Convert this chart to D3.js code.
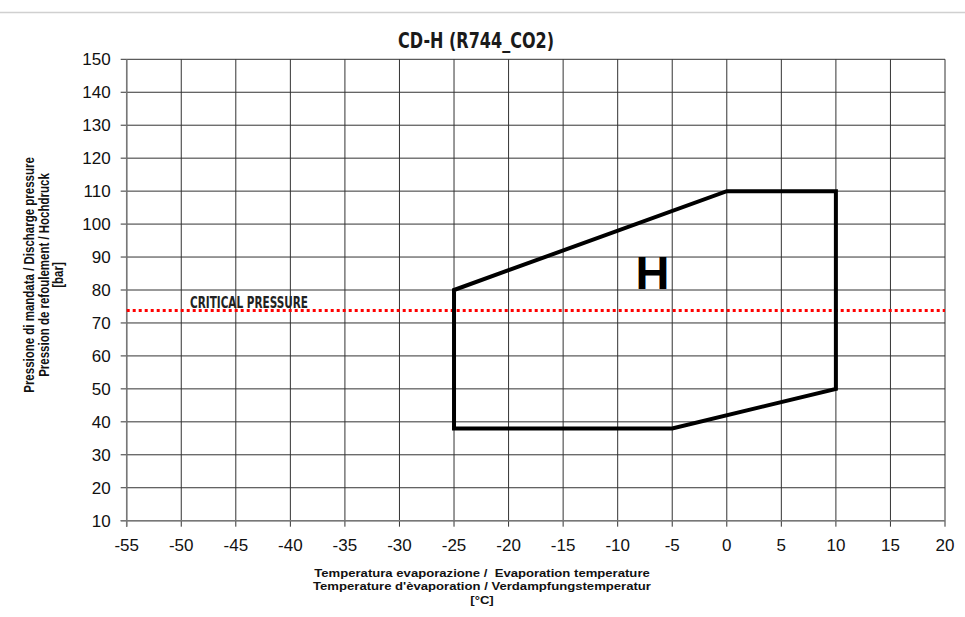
<!DOCTYPE html>
<html><head><meta charset="utf-8">
<script src="https://cdn.jsdelivr.net/npm/d3@7"></script>
<style>body{margin:0;background:#fff}svg{display:block}</style>
</head><body>
<svg id="c" width="965" height="617"></svg>
<script>
const envelopeT = [-25, -25, 0, 10, 10, -5];
const envelopeP = [38, 80, 110, 110, 50, 38];
const criticalPressure = 73.8;
const xTicks = [-55,-50,-45,-40,-35,-30,-25,-20,-15,-10,-5,0,5,10,15,20];
const yTicks = [10,20,30,40,50,60,70,80,90,100,110,120,130,140,150];
const regionLabel = "H";
const regionLabelPos = [-6.8, 85.5];
const title = "CD-H (R744_CO2)";
const criticalLabel = "CRITICAL PRESSURE";
const yTitle = ["Pressione di mandata / Discharge pressure","Pression de refoulement / Hochdruck","[bar]"];
const xTitle = ["Temperatura evaporazione /  Evaporation temperature","Temperature d'èvaporation / Verdampfungstemperatur","[°C]"];

const svg = d3.select("#c");
const L=126.7, R=945, T=59.3, B=520.7;
const x = d3.scaleLinear().domain([-55,20]).range([L,R]);
const y = d3.scaleLinear().domain([10,150]).range([B,T]);

svg.append("line").attr("x1",0).attr("x2",965).attr("y1",12.5).attr("y2",12.5)
  .attr("stroke","#d0d0d0").attr("stroke-width",1.5);

svg.append("text").attr("x",476).attr("y",48).attr("text-anchor","middle")
  .attr("font-family","DejaVu Sans Condensed, DejaVu Sans").attr("font-stretch","condensed")
  .attr("font-weight","bold").attr("font-size",22).attr("fill","#1a1a1a")
  .attr("textLength",156).attr("lengthAdjust","spacingAndGlyphs").text(title);

const g = svg.append("g");
// grid
g.selectAll(".vg").data(xTicks).join("line").attr("x1",d=>x(d)).attr("x2",d=>x(d))
  .attr("y1",T).attr("y2",B+6).attr("stroke","#333").attr("stroke-width",1);
g.selectAll(".hg").data(yTicks).join("line").attr("x1",L-6).attr("x2",R)
  .attr("y1",d=>y(d)).attr("y2",d=>y(d)).attr("stroke","#333").attr("stroke-width",1);
g.append("line").attr("x1",L).attr("x2",L).attr("y1",T).attr("y2",B+6).attr("stroke","#777").attr("stroke-width",1.5);
g.append("line").attr("x1",L-6).attr("x2",R).attr("y1",B).attr("y2",B).attr("stroke","#777").attr("stroke-width",1.5);

// tick labels
g.selectAll(".yl").data(yTicks).join("text").attr("x",L-16).attr("y",d=>y(d)+6)
  .attr("text-anchor","end").attr("font-family","Liberation Sans, Arial").attr("font-size",17)
  .attr("fill","#111").text(d=>d);
g.selectAll(".xl").data(xTicks).join("text").attr("x",d=>x(d)).attr("y",B+30)
  .attr("text-anchor","middle").attr("font-family","Liberation Sans, Arial").attr("font-size",17)
  .attr("fill","#111").text(d=>d);

// critical pressure
g.append("line").attr("x1",L).attr("x2",R).attr("y1",y(criticalPressure)).attr("y2",y(criticalPressure))
  .attr("stroke","#ff0000").attr("stroke-width",3).attr("stroke-dasharray","3,3");
g.append("text").attr("x",190).attr("y",y(criticalPressure)-2.5)
  .attr("font-family","DejaVu Sans Condensed, DejaVu Sans").attr("font-stretch","condensed")
  .attr("font-weight","bold").attr("font-size",16).attr("fill","#222").attr("textLength",118).attr("lengthAdjust","spacingAndGlyphs")
  .text(criticalLabel);

// envelope
const pts = envelopeT.map((t,i)=>[t,envelopeP[i]]);
g.append("path").attr("d", d3.line().x(d=>x(d[0])).y(d=>y(d[1]))(pts)+"Z")
  .attr("fill","none").attr("stroke","#000").attr("stroke-width",4).attr("stroke-linejoin","miter");

g.append("text").attr("x",x(regionLabelPos[0])).attr("y",y(regionLabelPos[1])+17)
  .attr("text-anchor","middle").attr("font-family","Liberation Sans, Arial").attr("font-weight","bold")
  .attr("font-size",47).attr("fill","#000").text(regionLabel);

// axis titles
const yt = svg.append("text").attr("transform","translate(0,275) rotate(-90) scale(1,1.25)")
  .attr("text-anchor","middle").attr("font-family","Liberation Sans, Arial").attr("font-weight","bold")
  .attr("font-size",11.5).attr("fill","#111");
yTitle.forEach((s,i)=>yt.append("tspan").attr("x",0).attr("y",27.2+i*11.8).text(s));

const xt = svg.append("text").attr("transform","translate(482,0) scale(1.14,1)")
  .attr("text-anchor","middle").attr("font-family","Liberation Sans, Arial")
  .attr("font-weight","bold").attr("font-size",11.5).attr("fill","#111").style("white-space","pre");
xTitle.forEach((s,i)=>xt.append("tspan").attr("x",0).attr("y",577+i*13.5).text(s));
</script>
</body></html>
